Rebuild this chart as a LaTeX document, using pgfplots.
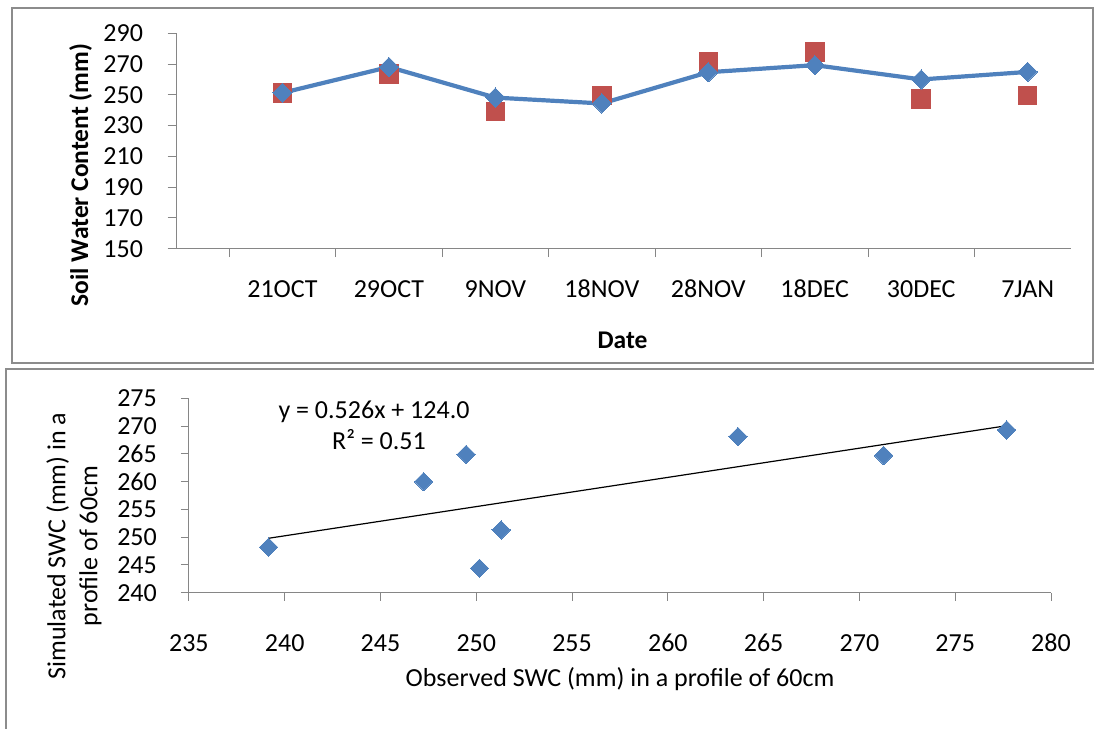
\documentclass[border=0pt]{standalone}
\usepackage{fontspec}
\setmainfont{Carlito}
\usepackage{pgfplots}
\pgfplotsset{compat=1.18}
\definecolor{sblue}{HTML}{4F81BD}
\definecolor{sred}{HTML}{C0504D}
\definecolor{axgray}{HTML}{868686}
\definecolor{boxgray}{HTML}{8C8C8C}
\begin{document}
\fontsize{26pt}{32pt}\selectfont
\begin{tikzpicture}[x=1pt,y=1pt]
\draw[boxgray, line width=1.6pt] (12,720) rectangle (1093,365);
\draw[boxgray, line width=1.6pt] (6,359) rectangle (1120,-20);

\begin{axis}[
  at={(176pt,479.3pt)}, anchor=south west,
  scale only axis, width=894.7pt, height=215.4pt,
  xmin=0, xmax=8.404, ymin=150, ymax=290,
  axis x line*=bottom, axis y line*=left,
  axis line style={axgray, line width=1pt, -},
  ytick={150,170,...,290},
  xtick={0.5,1.5,...,7.5}, xticklabels={},
  extra x ticks={1,2,...,8},
  extra x tick labels={21OCT,29OCT,9NOV,18NOV,28NOV,18DEC,30DEC,7JAN},
  extra x tick style={major tick length=0pt, xticklabel style={anchor=base, inner sep=0pt, yshift=-49pt}},
  tick align=outside,
  major tick length=8.5pt,
  tick style={axgray, line width=1pt},
  /pgf/number format/assume math mode=true,
  yticklabel style={anchor=east, inner sep=0pt, xshift=-24.3pt},
  clip=false,
]
\addplot[sred, only marks, mark=square*, mark size=9.3pt, mark options={line width=0pt}]
  coordinates {(1,251.3)(2,263.7)(3,239.2)(4,249.5)(5,271.3)(6,277.7)(7,247.3)(8,249.5)};
\addplot[sblue, line width=4.2pt, line join=round, mark=square*, mark size=6.8pt, mark options={rotate=45, line width=0pt, solid}]
  coordinates {(1,251.3)(2,268.1)(3,248.2)(4,244.4)(5,264.7)(6,269.3)(7,260.0)(8,264.9)};
\end{axis}

\begin{axis}[
  at={(188.9pt,135.3pt)}, anchor=south west,
  scale only axis, width=862.1pt, height=194.4pt,
  xmin=235, xmax=280, ymin=240, ymax=275,
  axis x line*=bottom, axis y line*=left,
  axis line style={axgray, line width=1pt, -},
  xtick={235,240,...,280}, ytick={240,245,...,275},
  tick align=outside,
  major tick length=8pt,
  tick style={axgray, line width=1pt},
  /pgf/number format/assume math mode=true,
  yticklabel style={anchor=east, inner sep=0pt, xshift=-23.9pt},
  xticklabel style={anchor=base, inner sep=0pt, yshift=-50.6pt},
  clip=false,
]
\addplot[sblue, only marks, mark=square*, mark size=6.5pt, mark options={rotate=45, line width=0pt}]
  coordinates {(239.16,248.2)(247.25,260.0)(249.47,264.9)(250.17,244.4)(251.3,251.3)(263.66,268.1)(271.26,264.7)(277.68,269.3)};
\addplot[black, line width=1.2pt] coordinates {(239.16,249.8)(277.68,270.06)};
\end{axis}

\node[font=\fontsize{25.5pt}{30pt}\bfseries, rotate=90, anchor=base] at (88,553) {Soil Water Content (mm)};
\node[font=\fontsize{25.5pt}{30pt}\bfseries, anchor=base] at (622.5,379.7) {Date};
\node[anchor=base] at (374,309.7) {y = 0.526x + 124.0};
\node[anchor=base] at (379,278) {R² = 0.51};
\node[anchor=base] at (620,41.8) {Observed SWC (mm) in a profile of 60cm};
\node[rotate=90, align=center, anchor=center] at (74,182) {Simulated SWC (mm) in a\\profile of 60cm};

\pgfresetboundingbox
\useasboundingbox (0,0) rectangle (1094,728);
\end{tikzpicture}
\end{document}
